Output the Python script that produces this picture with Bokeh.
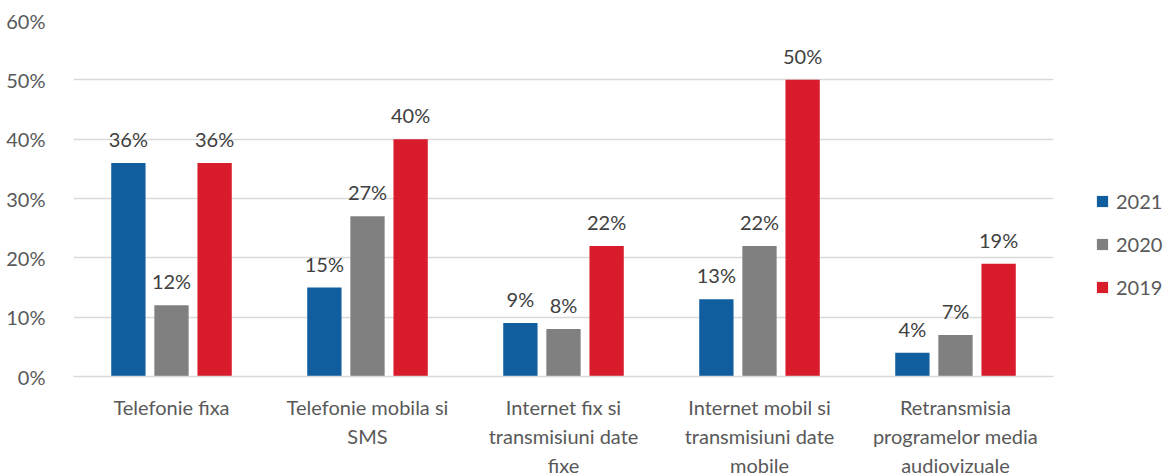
from bokeh.plotting import figure
from bokeh.models import (ColumnDataSource, FactorRange, Legend, LegendItem, SingleIntervalTicker,
                          PrintfTickFormatter, CategoricalAxis, CustomJSTickFormatter)
from bokeh.transform import dodge
from bokeh.core.properties import value
from bokeh.embed import file_html
from bokeh.resources import INLINE

categories = ["Telefonie fixa", "Telefonie mobila si SMS", "Internet fix si transmisiuni date fixe",
              "Internet mobil si transmisiuni date mobile", "Retransmisia programelor media audiovizuale"]
cat_lines = [["Telefonie fixa"],
             ["Telefonie mobila si", "SMS"],
             ["Internet fix si", "transmisiuni date", "fixe"],
             ["Internet mobil si", "transmisiuni date", "mobile"],
             ["Retransmisia", "programelor media", "audiovizuale"]]
v2021 = [36, 15, 9, 13, 4]
v2020 = [12, 27, 8, 22, 7]
v2019 = [36, 40, 22, 50, 19]
series_names = ["2021", "2020", "2019"]
colors = ["#115E9E", "#808080", "#D91C2B"]

FONT = "Lato"
TXT = "#595959"
FS = "20px"

src = ColumnDataSource(dict(cat=categories, v2021=v2021, v2020=v2020, v2019=v2019,
                            l2021=[f"{v}%" for v in v2021], l2020=[f"{v}%" for v in v2020],
                            l2019=[f"{v}%" for v in v2019]))

p = figure(x_range=FactorRange(*categories, range_padding=0), y_range=(0, 60),
           frame_width=980, frame_height=356, output_backend="svg", toolbar_location=None,
           min_border_left=73, min_border_top=20, min_border_bottom=0, min_border_right=0)

p.outline_line_color = None
p.background_fill_color = "white"

offsets = [-0.22, 0.0, 0.22]
items = []
for name, col, off in zip(series_names, colors, offsets):
    r = p.vbar(x=dodge("cat", off, range=p.x_range), top="v" + name, width=0.175, source=src,
               fill_color=col, line_color=None)
    p.text(x=dodge("cat", off, range=p.x_range), y="v" + name, text="l" + name, source=src,
           text_align="center", text_baseline="bottom", y_offset=-12,
           text_font=value(FONT), text_font_size=FS, text_color="#404040")
    items.append(LegendItem(label=name, renderers=[r]))

legend = Legend(items=items, location=(42, 77), label_text_font=FONT, label_text_font_size=FS,
                label_text_color=TXT, glyph_width=14, glyph_height=14, label_height=20,
                spacing=19, border_line_color=None, margin=0, padding=0, label_standoff=7,
                background_fill_alpha=0)
p.add_layout(legend, "right")

p.yaxis.ticker = SingleIntervalTicker(interval=10)
p.yaxis.formatter = PrintfTickFormatter(format="%d%%")
p.yaxis.axis_line_color = None
p.yaxis.major_tick_line_color = None
p.yaxis.minor_tick_line_color = None
p.yaxis.major_label_text_font = FONT
p.yaxis.major_label_text_font_size = FS
p.yaxis.major_label_text_color = TXT
p.yaxis.major_label_standoff = 22

line_map = dict(zip(categories, cat_lines))


def style_xaxis(ax, line_idx, standoff):
    ax.major_tick_line_color = None
    ax.minor_tick_line_color = None
    ax.formatter = CustomJSTickFormatter(
        args=dict(m=line_map, i=line_idx),
        code="const ls = m.get ? m.get(tick) : m[tick]; return (ls && ls.length > i) ? ls[i] : '';")
    ax.major_label_text_font = FONT
    ax.major_label_text_font_size = FS
    ax.major_label_text_color = TXT
    ax.major_label_standoff = standoff
    ax.major_label_orientation = "horizontal"


style_xaxis(p.xaxis[0], 0, 12)
p.xaxis[0].axis_line_color = "#D9D9D9"
p.xaxis[0].axis_line_width = 1.5
for i in (1, 2):
    ax = CategoricalAxis()
    style_xaxis(ax, i, -4)
    ax.axis_line_color = None
    p.add_layout(ax, "below")

p.xgrid.grid_line_color = None
p.ygrid.grid_line_color = "#D9D9D9"
p.ygrid.grid_line_width = 1.5

open("out.html", "w").write(file_html(p, INLINE))
